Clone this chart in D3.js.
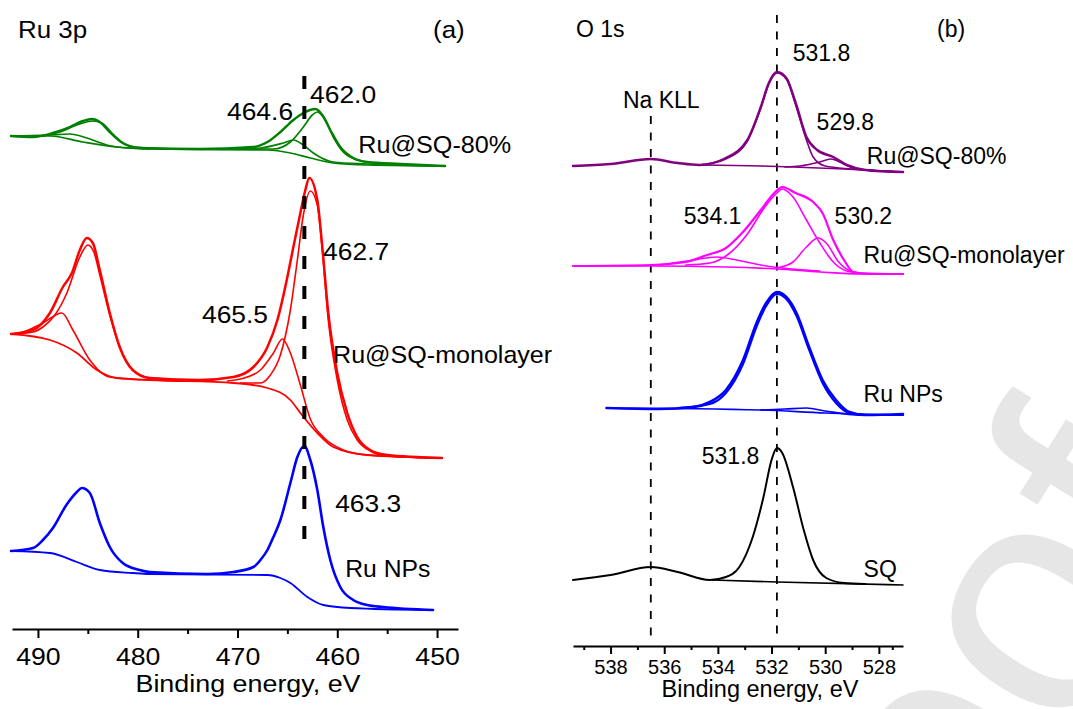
<!DOCTYPE html>
<meta charset="UTF-8">
<style>
body { margin: 0; background: #fff; }
text { font-family: "Liberation Sans", Arial, sans-serif; }
.curve { fill: none; stroke-linejoin: round; stroke-linecap: round; }
</style>
<body>
<div class="chart"></div>
<script src="https://d3js.org/d3.v7.min.js"></script>
<script>
// ---------- Ru 3p (binding energy eV, intensity a.u.) ----------
var npsEnv = [[492.7,7.8],[490.5,8.1],[489.5,8.9],[488.5,10.1],[487.15,12.4],[486.1,13.7],[485.6,14.1],[484.8,13.6],[483.8,10.6],[482.8,8.2],[481.5,6.6],[479.8,5.9],[478.8,5.7],[473.0,5.5],[470.4,5.7],[468.4,6.2],[467.7,6.9],[467.0,7.9],[466.4,9.2],[465.7,10.9],[464.7,14.6],[464.0,17.2],[463.3,18.3],[462.7,16.9],[462.0,13.9],[461.4,10.2],[460.7,6.9],[459.7,4.2],[458.4,2.9],[457.0,2.4],[455.4,2.2],[450.4,1.9]];
var npsBg = [[492.7,7.8],[488.8,7.6],[486.1,6.7],[483.8,5.9],[480.5,5.6],[478.8,5.5],[467.0,5.4],[465.7,5.1],[464.7,4.6],[463.0,3.2],[461.4,2.4],[458.7,2.1],[450.4,1.9]];

var monoEnv = [[492.7,29.5],[490.5,29.9],[488.8,31.6],[487.5,34.2],[486.6,35.6],[485.8,37.9],[485.1,39.1],[484.5,38.6],[483.8,35.9],[482.8,31.6],[481.8,28.2],[480.5,25.9],[478.8,25.1],[473.8,24.9],[470.4,25.2],[468.4,26.2],[467.0,28.2],[466.0,30.9],[465.0,35.2],[464.4,38.2],[463.7,41.6],[463.2,43.9],[462.8,45.1],[462.0,42.9],[461.5,38.2],[460.9,31.6],[460.0,25.6],[459.0,21.6],[458.0,19.2],[456.7,17.9],[455.0,17.4],[449.5,17.1]];
var monoBg = [[492.7,29.5],[488.8,28.9],[486.1,27.6],[484.1,25.9],[482.1,25.1],[478.8,24.9],[470.4,24.6],[467.0,24.1],[464.7,22.9],[463.7,21.6],[462.0,19.6],[460.4,18.2],[457.0,17.4],[449.5,17.1]];
var mono462 = [[469.7,24.6],[467.7,24.6],[466.7,25.4],[465.7,27.4],[464.7,31.9],[464.0,36.9],[463.4,41.4],[462.7,43.8],[462.0,42.4],[461.5,37.9],[460.9,30.9],[460.0,24.9],[459.0,20.9],[458.0,18.9],[456.7,17.8],[455.0,17.3],[449.5,17.1]];
var mono465 = [[471.0,24.8],[469.7,25.0],[467.7,25.9],[466.4,27.6],[465.5,29.0],[464.7,27.6],[463.7,24.4],[462.7,21.0],[461.4,19.2],[459.4,17.9],[457.0,17.4],[449.5,17.1]];
var mono485 = [[492.7,29.5],[490.5,29.7],[489.5,30.2],[488.3,31.4],[487.1,33.6],[485.8,37.2],[485.0,38.4],[484.4,37.7],[483.8,35.4],[482.8,31.4],[481.8,28.1],[480.5,25.9],[478.8,25.1],[473.8,24.9]];
var mono488 = [[492.7,29.5],[491.8,29.6],[489.5,30.6],[487.6,31.6],[486.5,29.9],[484.8,26.9],[482.8,25.2],[478.8,24.9]];

var sq80Env = [[492.7,49.3],[490.5,49.2],[488.5,49.6],[486.8,50.2],[485.5,50.8],[484.6,51.0],[483.8,50.7],[482.8,49.7],[481.5,48.6],[479.8,48.1],[473.8,48.0],[468.4,48.2],[467.0,48.7],[465.7,49.7],[464.4,50.9],[463.4,51.6],[462.2,52.0],[461.5,51.4],[460.7,49.9],[459.7,48.2],[458.4,47.1],[457.0,46.7],[453.7,46.5],[449.2,46.3]];
var sq80Bg = [[492.7,49.3],[488.8,49.3],[485.5,48.7],[482.1,48.2],[478.8,48.0],[467.0,47.9],[464.7,47.6],[462.7,47.1],[460.4,46.6],[457.0,46.4],[449.2,46.3]];
var sq80_464 = [[470.0,48.0],[467.7,48.1],[465.4,48.6],[464.4,48.9],[463.4,48.4],[462.4,47.6],[460.4,46.7],[457.0,46.5],[449.2,46.3]];
var sq80_462 = [[469.7,48.0],[466.4,48.0],[464.7,48.7],[463.4,50.2],[462.5,51.4],[462.0,51.7],[461.2,50.9],[460.4,49.2],[459.4,47.7],[458.0,46.9],[455.4,46.5],[449.2,46.3]];
var sq80_484 = [[492.7,49.3],[489.8,49.3],[487.8,49.7],[486.1,50.4],[484.5,50.8],[483.6,50.6],[482.6,49.6],[481.1,48.4],[479.1,48.1],[473.8,48.0]];
var sq80_487 = [[492.7,49.3],[489.1,49.4],[486.8,49.5],[485.1,49.1],[483.1,48.4],[481.1,48.1],[478.8,48.0]];

// ---------- O 1s ----------
var o80Env = [[539.4,48.0],[538.0,48.2],[536.5,48.7],[535.5,48.3],[534.7,48.1],[533.7,48.8],[532.9,50.6],[532.4,53.9],[532.1,56.3],[531.8,57.4],[531.45,56.8],[531.1,54.3],[530.7,50.9],[530.3,49.6],[529.7,48.9],[529.2,48.1],[528.5,47.6],[527.1,47.4]];
var o80Bg = [[534.7,48.1],[532.4,48.0],[531.2,47.9],[529.3,47.7],[527.1,47.4]];
var o80_531 = [[534.7,48.1],[533.7,48.7],[532.9,50.5],[532.4,53.8],[532.1,56.2],[531.8,57.3],[531.45,56.7],[531.1,54.1],[530.7,50.6],[530.45,48.9],[530.0,48.0],[529.0,47.7],[527.1,47.4]];
var o80_529 = [[531.5,47.9],[530.95,48.0],[530.2,48.4],[529.8,48.7],[529.3,48.2],[528.95,47.8],[528.1,47.5],[527.1,47.4]];

var oMonoEnv = [[539.4,38.0],[536.5,38.1],[535.2,38.4],[534.4,39.1],[533.7,39.8],[533.1,41.3],[532.4,43.6],[531.9,45.3],[531.6,45.9],[531.1,45.3],[530.45,44.4],[530.1,43.3],[529.7,40.6],[529.3,38.6],[528.95,37.4],[528.3,37.2],[527.1,37.2]];
var oMonoBg = [[539.4,38.0],[536.5,38.0],[533.7,37.9],[531.8,37.7],[530.2,37.4],[528.7,37.2],[527.1,37.2]];
var oMono531 = [[535.2,38.1],[534.3,38.3],[533.6,39.2],[532.9,41.2],[532.3,43.7],[531.8,45.3],[531.6,45.7],[531.2,44.9],[530.7,42.6],[530.2,40.3],[529.7,38.4],[529.2,37.5],[528.7,37.3],[527.1,37.2]];
var oMono534 = [[536.2,38.1],[534.9,38.6],[534.05,38.9],[533.3,38.6],[532.4,38.1],[531.6,37.8],[530.2,37.5]];
var oMono530 = [[531.8,37.8],[531.2,38.4],[530.7,39.9],[530.27,40.8],[529.96,40.3],[529.5,38.4],[528.95,37.4],[528.3,37.2],[527.1,37.2]];

var oNPsEnv = [[538.15,23.8],[536.2,23.7],[534.9,23.9],[534.3,24.4],[533.7,25.6],[533.06,28.6],[532.56,32.3],[532.2,34.3],[531.8,35.4],[531.45,34.9],[531.07,33.3],[530.6,29.9],[530.1,26.6],[529.6,24.6],[529.1,23.4],[528.5,23.1],[527.1,23.2]];
var oNPsBg = [[538.15,23.8],[532.4,23.6],[530.0,23.3],[527.1,23.1]];
var oNPs531 = [[535.5,23.8],[534.3,24.2],[533.7,25.3],[533.06,28.2],[532.56,31.9],[532.2,34.0],[531.8,35.2],[531.45,34.7],[531.07,33.0],[530.6,29.6],[530.1,26.3],[529.6,24.3],[529.1,23.3],[528.5,23.1],[527.1,23.1]];
var oNPs530 = [[532.4,23.6],[531.5,23.7],[530.7,23.8],[530.0,23.5],[528.7,23.1],[527.1,23.1]];

var oSQEnv = [[539.4,6.6],[538.0,7.1],[536.5,7.9],[535.5,7.4],[534.3,6.6],[533.7,6.9],[533.2,7.9],[532.7,10.9],[532.3,14.9],[532.0,18.6],[531.8,19.8],[531.6,19.3],[531.2,15.9],[530.8,11.6],[530.45,8.6],[529.96,6.8],[529.3,6.3],[528.5,6.2]];
var oSQBg = [[534.2,6.6],[531.8,6.4],[527.1,6.1]];

// ticks
var ticksA = [490, 480, 470, 460, 450];
var minorA = [485, 475, 465, 455];
var ticksB = [538, 536, 534, 532, 530, 528];
var minorB = [539, 537, 535, 533, 531, 529, 527.5];

// peak labels [text, energy, intensity at baseline, horizontal stretch]
var labelsA = [["464.6",471.05,50.9,1.1],["462.0",462.73,52.6,1.1],["Ru@SQ-80%",457.9,47.6,1.05],["462.7",461.42,36.9,1.1],["465.5",473.56,30.6,1.1],["Ru@SQ-monolayer",460.42,26.6,1.045],["463.3",460.21,11.7,1.1],["Ru NPs",459.2,5.2,1.03]];
var labelsB = [["531.8",531.21,58.5],["Na KLL",537.54,53.8],["529.8",530.32,51.6],["Ru@SQ-80%",528.45,48.2],["534.1",535.27,42.2],["530.2",529.65,42.2],["Ru@SQ-monolayer",528.57,38.3],["Ru NPs",528.57,24.4],["531.8",534.6,18.2],["SQ",528.57,6.9]];

// reference lines [energy, top, bottom]
var dashA = [[463.3, 55.3, 8.9]];
var dashB = [[531.8, 63.1, 1.0], [536.5, 53.0, 1.0]];

var W = 1073, H = 709;
var svg = d3.select(".chart").append("svg").attr("width", W).attr("height", H);
svg.append("rect").attr("width", W).attr("height", H).attr("fill", "#fff");

var xA = d3.scaleLinear().domain([492.6, 447.9]).range([12, 458]);
var yA = d3.scaleLinear().domain([0, 62.9]).range([629, 0]);
var xB = d3.scaleLinear().domain([539.4, 527.1]).range([573, 903]);
var yB = d3.scaleLinear().domain([0, 64.6]).range([646, 0]);

function text(g, x, y, str, size, sx, anchor) {
  return g.append("text")
    .attr("transform", "translate(" + x + "," + y + ") scale(" + sx + ",1)")
    .attr("font-size", size)
    .attr("fill", "#000")
    .attr("text-anchor", anchor || "start")
    .text(str);
}

function curves(g, x, y, list) {
  var line = d3.line().x(function (d) { return x(d[0]); }).y(function (d) { return y(d[1]); }).curve(d3.curveMonotoneX);
  list.forEach(function (s) {
    var pts = s[0].slice().sort(function (a, b) { return a[0] - b[0]; });
    g.append("path").attr("class", "curve").attr("d", line(pts))
      .attr("stroke", s[1]).attr("stroke-width", s[2]);
  });
}

function axis(g, x, y0, major, minor, majLen, minLen, fs, labY, sx) {
  g.append("g").attr("transform", "translate(0," + y0 + ")")
    .call(d3.axisBottom(x).tickValues(minor).tickSize(minLen).tickFormat(""))
    .call(function (s) { s.select(".domain").remove(); s.selectAll("line").attr("stroke-width", 2); });
  var ax = g.append("g").attr("transform", "translate(0," + y0 + ")")
    .call(d3.axisBottom(x).tickValues(major).tickSize(majLen).tickSizeOuter(0).tickFormat(d3.format("d")));
  ax.attr("font-family", null).attr("font-size", fs);
  ax.select(".domain").attr("stroke-width", 2);
  ax.selectAll("line").attr("stroke-width", 2);
  ax.selectAll("text").attr("y", labY).attr("dy", 0).attr("fill", "#000")
    .attr("transform", "scale(" + sx + ",1)");
}

// ---- panel (a) ----
var gA = svg.append("g");
curves(gA, xA, yA, [
  [sq80Bg, "#008000", 1.7], [sq80_487, "#008000", 1.7], [sq80_484, "#008000", 1.7],
  [sq80_464, "#008000", 1.7], [sq80_462, "#008000", 1.7], [sq80Env, "#008000", 2.4],
  [monoBg, "#ff0000", 1.8], [mono488, "#ff0000", 1.6], [mono485, "#ff0000", 1.6],
  [mono465, "#ff0000", 1.6], [mono462, "#ff0000", 1.6], [monoEnv, "#ff0000", 2.5],
  [npsBg, "#0000ff", 1.8], [npsEnv, "#0000ff", 2.6]
]);
dashA.forEach(function (d) {
  gA.append("line").attr("x1", xA(d[0])).attr("x2", xA(d[0])).attr("y1", yA(d[1])).attr("y2", yA(d[2]))
    .attr("stroke", "#000").attr("stroke-width", 4).attr("stroke-dasharray", "13,17");
});
axis(gA, xA, 629, ticksA, minorA, 9, 5, 24, 36, 1.11);
labelsA.forEach(function (l) { text(gA, xA(l[1]), yA(l[2]), l[0], 24, l[3]); });
text(gA, xA(468.95), 692, "Binding energy, eV", 24, 1.12, "middle");
text(gA, 18, 38, "Ru 3p", 24, 1.08);
text(gA, 433, 38, "(a)", 24, 1.08);

// ---- panel (b) ----
var gB = svg.append("g");
dashB.forEach(function (d) {
  gB.append("line").attr("x1", xB(d[0])).attr("x2", xB(d[0])).attr("y1", yB(d[1])).attr("y2", yB(d[2]))
    .attr("stroke", "#000").attr("stroke-width", 1.8).attr("stroke-dasharray", "8,8.5");
});
curves(gB, xB, yB, [
  [o80Bg, "#800080", 1.6], [o80_529, "#800080", 1.6], [o80_531, "#800080", 1.6], [o80Env, "#800080", 2.5],
  [oMonoBg, "#ff00ff", 1.6], [oMono534, "#ff00ff", 1.6], [oMono530, "#ff00ff", 1.6], [oMono531, "#ff00ff", 1.6], [oMonoEnv, "#ff00ff", 2.2],
  [oNPsBg, "#0000ff", 1.6], [oNPs530, "#0000ff", 1.6], [oNPs531, "#0000ff", 2.0], [oNPsEnv, "#0000ff", 2.6],
  [oSQBg, "#000", 1.6], [oSQEnv, "#000", 2.0]
]);
axis(gB, xB, 646, ticksB, minorB, 8, 4, 20, 28, 1);
labelsB.forEach(function (l) { text(gB, xB(l[1]), yB(l[2]), l[0], 23, 1); });
text(gB, xB(532.43), 697, "Binding energy, eV", 23.5, 1, "middle");
text(gB, 576, 37, "O 1s", 23, 1);
text(gB, 937, 37, "(b)", 23, 1);

// ---- watermark ----
svg.append("text")
  .attr("transform", "translate(815,1150) rotate(-58)")
  .attr("font-size", 330)
  .style("fill", "rgb(180,180,180)")
  .style("fill-opacity", 0.33)
  .text("proof");
</script>
</body>
